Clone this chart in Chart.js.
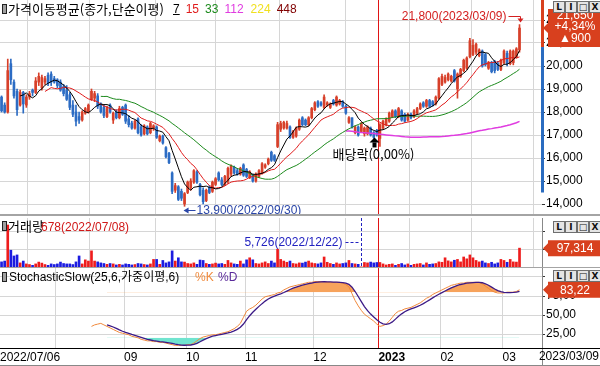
<!DOCTYPE html>
<html lang="ko">
<head>
<meta charset="utf-8">
<title>가격이동평균</title>
<script src="https://cdn.jsdelivr.net/npm/chart.js@4.4.1/dist/chart.umd.min.js"></script>
<style>
  html,body{margin:0;padding:0;background:#fff;}
  #wrap{position:relative;width:600px;height:366px;overflow:hidden;background:#fff;}
  #wrap canvas{position:absolute;left:0;}
  .lbl{position:absolute;white-space:nowrap;font-family:"Noto Sans CJK KR","Liberation Sans",sans-serif;font-size:13px;line-height:14px;color:#000;}
  .num{position:absolute;white-space:nowrap;font-family:"Liberation Sans","Noto Sans CJK KR",sans-serif;font-size:12px;line-height:14px;}
  .btns{position:absolute;left:553px;width:47px;height:12px;}
  .btns span{position:absolute;top:0;width:10px;height:10px;border:1px solid #6f6f6f;background:#e4e4e4;color:#111;font:bold 9px/10px "DejaVu Sans",sans-serif;text-align:center;}
  .icon{position:absolute;width:3px;height:8px;background:#a0a0a0;border:1px solid #222;}
  .sep{position:absolute;left:0;width:600px;}
</style>
</head>
<body>
<div id="wrap">
  <canvas id="cPrice" width="600" height="216" style="top:0px"></canvas>
  <canvas id="cVol" width="600" height="52" style="top:216px"></canvas>
  <canvas id="cSto" width="600" height="98" style="top:268px"></canvas>
  <div class="sep" style="top:214px;height:2px;background:#a4a4a4"></div>
  <div class="sep" style="top:267px;height:1px;background:#a4a4a4"></div>
  <div class="sep" style="top:348px;height:1px;background:#000"></div>
  <div class="sep" style="top:365px;height:1px;background:#888"></div>
  <div style="position:absolute;left:542px;top:349px;width:1px;height:16px;background:#888"></div>

  <div class="icon" style="left:2px;top:4px"></div>
  <div class="lbl" style="left:8px;top:2px">가격이동평균(종가,단순이평)</div>
  <div id="maLegend"></div>

  <div class="icon" style="left:2px;top:221px"></div>
  <div class="lbl" style="left:8px;top:219px">거래량</div>
  <div class="num" id="volMaxLbl" style="left:41px;top:220px;color:#d01818"></div>

  <div class="icon" style="left:2px;top:272px"></div>
  <div class="num" style="left:9px;top:270px;color:#000">StochasticSlow(25,6,가중이평,6)</div>
  <div class="num" style="left:195px;top:270px;color:#f08a3c">%K</div>
  <div class="num" style="left:218px;top:270px;color:#5a2a9a">%D</div>

  <div class="num" id="lastDate" style="right:1px;top:349px;color:#000"></div>

  <div class="btns" style="top:1px"><span style="left:0">L</span><span style="left:12px">I</span><span style="left:24px">□</span><span style="left:36px">X</span></div>
  <div class="btns" style="top:221px"><span style="left:0">L</span><span style="left:12px">I</span><span style="left:24px">□</span><span style="left:36px">X</span></div>
  <div class="btns" style="top:270px"><span style="left:0">L</span><span style="left:12px">I</span><span style="left:24px">□</span><span style="left:36px">X</span></div>
</div>
<script>
// ---------------- DATA ----------------
const dates = [
 '2022/07/06','2022/07/07','2022/07/08','2022/07/11','2022/07/12','2022/07/13','2022/07/14','2022/07/15','2022/07/18','2022/07/19','2022/07/20','2022/07/21','2022/07/22','2022/07/25','2022/07/26','2022/07/27','2022/07/28','2022/07/29',
 '2022/08/01','2022/08/02','2022/08/03','2022/08/04','2022/08/05','2022/08/08','2022/08/09','2022/08/10','2022/08/11','2022/08/12','2022/08/16','2022/08/17','2022/08/18','2022/08/19','2022/08/22','2022/08/23','2022/08/24','2022/08/25','2022/08/26','2022/08/29','2022/08/30','2022/08/31',
 '2022/09/01','2022/09/02','2022/09/05','2022/09/06','2022/09/07','2022/09/08','2022/09/13','2022/09/14','2022/09/15','2022/09/16','2022/09/19','2022/09/20','2022/09/21','2022/09/22','2022/09/23','2022/09/26','2022/09/27','2022/09/28','2022/09/29','2022/09/30',
 '2022/10/04','2022/10/05','2022/10/06','2022/10/07','2022/10/11','2022/10/12','2022/10/13','2022/10/14','2022/10/17','2022/10/18','2022/10/19','2022/10/20','2022/10/21','2022/10/24','2022/10/25','2022/10/26','2022/10/27','2022/10/28','2022/10/31',
 '2022/11/01','2022/11/02','2022/11/03','2022/11/04','2022/11/07','2022/11/08','2022/11/09','2022/11/10','2022/11/11','2022/11/14','2022/11/15','2022/11/16','2022/11/17','2022/11/18','2022/11/21','2022/11/22','2022/11/23','2022/11/24','2022/11/25','2022/11/28','2022/11/29','2022/11/30',
 '2022/12/01','2022/12/02','2022/12/05','2022/12/06','2022/12/07','2022/12/08','2022/12/09','2022/12/12','2022/12/13','2022/12/14','2022/12/15','2022/12/16','2022/12/19','2022/12/20','2022/12/21','2022/12/22','2022/12/23','2022/12/26','2022/12/27','2022/12/28','2022/12/29',
 '2023/01/02','2023/01/03','2023/01/04','2023/01/05','2023/01/06','2023/01/09','2023/01/10','2023/01/11','2023/01/12','2023/01/13','2023/01/16','2023/01/17','2023/01/18','2023/01/19','2023/01/20','2023/01/25','2023/01/26','2023/01/27','2023/01/30','2023/01/31',
 '2023/02/01','2023/02/02','2023/02/03','2023/02/06','2023/02/07','2023/02/08','2023/02/09','2023/02/10','2023/02/13','2023/02/14','2023/02/15','2023/02/16','2023/02/17','2023/02/20','2023/02/21','2023/02/22','2023/02/23','2023/02/24','2023/02/27','2023/02/28',
 '2023/03/02','2023/03/03','2023/03/06','2023/03/07','2023/03/08','2023/03/09'
];
const openPrices = [
 18650,18300,18000,20100,19300,18900,18300,18850,18300,18650,
 18950,18850,19300,19050,19300,19600,19650,19450,19400,19300,
 19100,18950,18750,18300,18000,17800,17650,17950,18000,18550,
 18600,18700,18350,18200,17800,18300,17650,18000,17750,18200,
 18300,17700,17520,17300,17700,17350,17050,17350,17100,17300,
 17350,16750,16950,16450,16200,15350,14600,14750,14550,14000,
 14500,14700,14950,15400,14850,14600,14150,14700,14550,14850,
 15350,15050,14850,15000,15300,15600,15450,15300,15700,15500,
 15150,15250,15000,15200,15350,15600,15750,16250,16100,16500,
 17250,17300,17300,17350,16900,16950,17250,17750,17650,17450,
 17750,18100,18450,18400,18200,18300,18200,18500,18300,18350,
 18450,18250,17550,17750,17100,17350,17150,17050,17050,17300,
 17100,17200,16850,17300,17450,17600,17800,18050,17800,18050,
 17900,17650,17900,17800,17950,18150,18400,18250,18500,18450,
 18350,18600,19200,19300,19400,19350,19800,19000,19550,19800,
 19900,20400,20500,20600,20450,20650,20500,19900,20150,20200,
 20100,19850,20150,20550,20100,20150,20400,20700
];
const highPrices = [
 18700,18400,20300,20300,19400,19000,18950,18900,18750,18900,
 19000,19500,19700,19600,19550,19700,19750,19550,19450,19400,
 19200,19150,18850,18500,18300,18000,18050,18200,18350,19000,
 18900,18800,18400,18300,18250,18350,18000,18100,18250,18250,
 18350,17850,17600,17650,17750,17450,17450,17400,17550,17450,
 17400,17000,17000,16500,16250,15400,14900,14800,14650,14500,
 15000,15100,15500,15450,14900,14700,14650,14800,15000,15150,
 15400,15150,15250,15600,15700,15650,15550,15600,15750,15550,
 15450,15300,15350,15500,15800,15750,16000,16300,16150,17550,
 17600,17600,17600,17400,17200,17350,17700,17800,17700,17800,
 18200,18450,18500,18450,18750,18450,18400,18550,18700,18550,
 18500,18300,17800,17750,17400,17400,17550,17350,17400,17350,
 17150,17250,17500,17650,17750,18000,18100,18100,18200,18100,
 17950,17950,17950,18100,18200,18400,18450,18550,18550,18500,
 18700,19500,19650,19600,19700,19600,19850,19700,19900,20300,
 20400,21200,21150,21000,20750,20700,20550,20200,20200,20250,
 20200,20300,20700,20650,20700,20700,20800,21800
];
const lowPrices = [
 18000,17950,17950,19200,18600,17850,18250,17950,18200,18550,
 18700,18800,19150,18950,19200,19150,19150,19250,19050,18900,
 18700,18500,18100,17800,17400,17500,17600,17900,17950,18500,
 18450,18150,17950,17750,17750,17950,17500,17700,17700,17850,
 17500,17350,17250,17250,17050,16950,17000,17000,17050,17200,
 16850,16700,16600,16000,15750,14450,14500,14150,14150,13900,
 14450,14600,14900,14900,14350,14000,14100,14450,14500,14800,
 15000,14800,14800,14900,15200,15300,15250,15250,15200,15150,
 15100,14950,14950,15150,15300,15550,15700,15850,15850,16450,
 17150,17250,17250,16850,16850,16900,17200,17400,17400,17400,
 17700,18050,18200,18250,18150,18250,18150,18300,18250,18300,
 18200,17900,17500,17300,17050,16950,17100,16950,17000,16950,
 16850,16950,16500,17250,17400,17550,17750,17750,17750,17600,
 17550,17600,17700,17750,17900,18100,18200,18200,18200,18250,
 18300,18550,19150,19250,19350,19300,19300,18600,19500,19750,
 19850,20350,20450,20500,20400,19950,20000,19850,19700,19700,
 19800,19800,20100,20000,20050,20050,20350,20600
];
const closePrices = [
 18050,18000,19800,19400,18700,18100,18850,18350,18650,18800,
 18850,19350,19550,19500,19450,19250,19300,19300,19150,18950,
 18800,18550,18200,17900,17600,17650,18000,18150,18300,18900,
 18800,18250,18000,17850,18150,18000,17950,17750,18150,17900,
 17600,17450,17300,17600,17100,17000,17400,17050,17500,17400,
 16900,16950,16650,16050,15800,14550,14800,14200,14250,14450,
 14950,15000,15450,14950,14400,14100,14600,14500,14950,15100,
 15050,14850,15200,15550,15650,15350,15300,15550,15250,15200,
 15400,15000,15300,15450,15750,15700,15950,15900,15900,17450,
 17500,17550,17500,16900,17150,17300,17650,17450,17450,17750,
 18150,18400,18250,18300,18650,18400,18350,18350,18650,18500,
 18250,17950,17750,17350,17350,17000,17500,17300,17350,17000,
 16900,17000,17450,17600,17700,17950,18050,17800,18150,17650,
 17600,17900,17750,18050,18150,18350,18250,18500,18250,18300,
 18650,19450,19550,19500,19650,19550,19350,19650,19850,20250,
 20350,21100,20900,20950,20700,20000,20050,20150,19750,19800,
 19850,20250,20650,20100,20650,20650,20750,21650
];
const volumes = [
 30000,34000,210678,87000,59000,64000,25000,34000,20000,17000,
 13000,20000,29000,24000,17000,13000,20000,17000,20000,29000,
 22000,20000,20000,17000,30000,59000,20000,40000,34000,84000,
 34000,30000,25000,22000,18000,22000,20000,15000,18000,15000,
 20000,18000,15000,17000,22000,20000,17000,15000,20000,42000,
 42000,18000,37000,25000,30000,84000,34000,50000,30000,29000,
 22000,20000,25000,18000,39000,37000,22000,18000,20000,24000,
 20000,22000,18000,37000,25000,20000,18000,34000,20000,40000,
 50000,40000,22000,20000,25000,30000,22000,34000,25000,92000,
 42000,34000,28000,34000,22000,20000,25000,24000,29000,34000,
 25000,22000,20000,25000,54000,28000,22000,18000,25000,20000,
 22000,25000,37000,22000,20000,18000,5726,27000,25000,29000,
 25000,27000,27000,20000,15000,18000,20000,13000,18000,22000,
 15000,20000,13000,18000,20000,22000,15000,25000,18000,20000,
 22000,30000,28000,50000,35000,30000,38000,42000,30000,54000,
 45000,64000,50000,37000,30000,34000,25000,22000,28000,20000,
 25000,42000,37000,28000,42000,30000,29000,97314
];
// Stochastic Slow %K (first value on the 30th trading day)
const stochKValues = [
 35,37,38,39,37,35,33,
 31,29,27,26,25,24,22,21,20,18,
 17,16,16,15,15,14,14,13,12,11,10,10,
 10,10,11,11,13,16,19,
 21,22,23,24,24,25,26,27,28,30,32,35,39,
 47,55,58,60,63,67,71,74,75,76,77,79,
 80,83,85,87,88,89,90,91,92,93,93,94,
 94,94,94,93,93,93,93,93,92,90,87,78,
 69,62,56,51,48,45,42,38,
 35,36,38,42,47,52,55,56,58,59,60,62,
 64,66,69,72,74,77,79,81,83,85,87,89,
 90,91,92,92,93,93,93,93,93,91,88,85,
 82,80,79,79,79,80,80,80,81,83.22
];
const maPeriods = [7, 15, 33, 112, 224, 448];
const maColors  = ['#000000', '#e01c1c', '#1c8a1c', '#e03ce0', '#f0e020', '#800000'];
const priceTicks = [14000, 15000, 16000, 17000, 18000, 19000, 20000, 21000, 22000];
const volumeTicks = [90000, 180000];
const stochTicks = [25, 50, 75, 100];
const stochLevels = [20, 80];
const events = [{ date: '2022/12/28', text: '배당락(0,00%)' }];

// ---------------- HELPERS ----------------
const FONT = '"Liberation Sans","Noto Sans CJK KR",sans-serif';
const GRID = '#d6d6d6';
const UP = '#d7402a', DOWN = '#2c6cc4';
const VUP = '#ee1c1c', VDOWN = '#1c1ce0';
const TAG = '#d8401e';
const N = dates.length;
const X_MIN = -0.5, X_MAX = 174.25;
const fmtInt = v => Math.round(v).toLocaleString('en-US');
const stochK = new Array(N - stochKValues.length).fill(null).concat(stochKValues);

function sma(arr, n) {
  return arr.map((v, i) => {
    if (i < n - 1) return null;
    let s = 0; for (let k = i - n + 1; k <= i; k++) s += arr[k];
    return s / n;
  });
}
function wma(arr, n) {
  return arr.map((v, i) => {
    if (i < n - 1) return null;
    let s = 0, w = 0;
    for (let k = 0; k < n; k++) { const a = arr[i - n + 1 + k]; if (a == null) return null; s += a * (k + 1); w += k + 1; }
    return s / w;
  });
}
const stochD = wma(stochK, 6);
const up = closePrices.map((c, i) => c >= openPrices[i]);

// x ticks at month boundaries
const xTickValues = [X_MIN];
const xTickLabels = { [X_MIN]: dates[0] };
const hiddenMonthLabels = ['08'];
for (let i = 1; i < N; i++) {
  const m = dates[i].slice(5, 7);
  if (m !== dates[i - 1].slice(5, 7)) {
    const v = i - 0.5;
    xTickValues.push(v);
    xTickLabels[v] = m === '01' ? dates[i].slice(0, 4) : (hiddenMonthLabels.includes(m) ? '' : m);
  }
}
const yearBoundary = dates.findIndex(d => d.startsWith('2023')) - 0.5;

function xScaleOpts(showLabels) {
  return {
    type: 'linear', min: X_MIN, max: X_MAX, offset: false,
    afterBuildTicks: s => { s.ticks = xTickValues.map(v => ({ value: v })); },
    afterFit: s => { s.height = showLabels ? 18 : 0; s.paddingLeft = 0; s.paddingRight = 0; },
    grid: { color: c => (c.tick && c.tick.value === X_MIN) ? 'rgba(0,0,0,0)' : GRID, lineWidth: 1, drawTicks: false },
    border: { display: false },
    ticks: {
      display: showLabels, autoSkip: false, maxRotation: 0, minRotation: 0, align: 'start', padding: 2, color: '#000',
      font: c => ({ family: FONT, size: 12, weight: (c.tick && xTickLabels[c.tick.value] === '2023') ? 'bold' : 'normal' }),
      callback: v => xTickLabels[v] || ''
    }
  };
}
function yScaleOpts(min, max, ticks, cb, showLabels) {
  return {
    position: 'right', min, max,
    afterBuildTicks: s => { s.ticks = ticks.map(v => ({ value: v })); },
    afterFit: s => { s.width = 58; s.paddingTop = 0; s.paddingBottom = 0; },
    grid: { color: GRID, drawTicks: true, tickLength: 3, tickColor: '#333' },
    border: { display: true, color: '#888', width: 1 },
    ticks: { display: showLabels, color: '#000', font: { family: FONT, size: 12 }, padding: 1, callback: cb }
  };
}
const baseOpts = {
  responsive: false, maintainAspectRatio: false, animation: false, devicePixelRatio: 1, events: [],
  plugins: { legend: { display: false }, tooltip: { enabled: false } }
};
function drawYearLine(chart) {
  const { ctx, chartArea } = chart;
  const x = Math.round(chart.scales.x.getPixelForValue(yearBoundary)) + 0.5;
  ctx.save(); ctx.strokeStyle = '#e01414'; ctx.lineWidth = 1;
  ctx.beginPath(); ctx.moveTo(x, chartArea.top); ctx.lineTo(x, chartArea.bottom); ctx.stroke(); ctx.restore();
}
function drawTag(ctx, left, yc, top, bottom, lines, lineYs) {
  ctx.save();
  ctx.fillStyle = TAG;
  const bx = left + 5;
  ctx.beginPath();
  ctx.moveTo(bx, top); ctx.lineTo(600, top); ctx.lineTo(600, bottom); ctx.lineTo(bx, bottom);
  ctx.lineTo(bx, Math.min(bottom, yc + 5)); ctx.lineTo(left, yc); ctx.lineTo(bx, Math.max(top, yc - 5));
  ctx.closePath(); ctx.fill();
  ctx.fillStyle = '#fff'; ctx.font = '12px ' + FONT; ctx.textAlign = 'center'; ctx.textBaseline = 'middle';
  lines.forEach((t, k) => ctx.fillText(t, (bx + 600) / 2 + 1, lineYs[k]));
  ctx.restore();
}

// legend
(function () {
  const lg = document.getElementById('maLegend');
  let x = 173;
  maPeriods.forEach((p, k) => {
    const s = document.createElement('div');
    s.className = 'num';
    s.style.left = x + 'px'; s.style.top = '2px'; s.style.color = maColors[k];
    if (k === 0) s.style.textDecoration = 'underline';
    s.textContent = String(p);
    lg.appendChild(s);
    x += String(p).length * 6.7 + 6;
  });
  const vi = volumes.indexOf(Math.max(...volumes));
  document.getElementById('volMaxLbl').textContent = fmtInt(volumes[vi]).slice(-3) + '(' + dates[vi] + ')';
  document.getElementById('lastDate').textContent = dates[N - 1];
})();

// ---------------- PRICE CHART ----------------
const P_MAX = 20000 + 66 / 0.023, P_MIN = P_MAX - 214 / 0.023;
const maDatasets = maPeriods.slice(0, 4).map((p, k) => ({
  type: 'line', label: 'MA' + p,
  data: sma(closePrices, p).map((v, i) => ({ x: i, y: v })).filter(d => d.y != null),
  borderColor: maColors[k], borderWidth: k === 3 ? 1.5 : 1, pointRadius: 0, fill: false, tension: 0, order: 1
}));
const pricePlugin = {
  id: 'priceDecor',
  beforeDatasetsDraw(chart) { drawYearLine(chart); },
  afterDraw(chart) {
    const { ctx, chartArea } = chart, xs = chart.scales.x, ys = chart.scales.y;
    ctx.save();
    // highest high
    const hi = highPrices.indexOf(Math.max(...highPrices));
    let px = Math.round(xs.getPixelForValue(hi)) + 0.5, py = ys.getPixelForValue(highPrices[hi]);
    ctx.font = '12px ' + FONT; ctx.textBaseline = 'middle';
    ctx.fillStyle = '#d42020'; ctx.strokeStyle = '#d42020'; ctx.lineWidth = 1;
    ctx.textAlign = 'right';
    const ty = 16.5;
    ctx.fillText(fmtInt(highPrices[hi]) + '(' + dates[hi] + ')', px - 14, ty);
    ctx.beginPath(); ctx.moveTo(px - 12, ty); ctx.lineTo(px, ty); ctx.lineTo(px, py - 5); ctx.stroke();
    ctx.beginPath(); ctx.moveTo(px - 3, py - 6); ctx.lineTo(px + 3, py - 6); ctx.lineTo(px, py - 2); ctx.closePath(); ctx.fill();
    // lowest low
    const lo = lowPrices.indexOf(Math.min(...lowPrices));
    px = xs.getPixelForValue(lo); py = ys.getPixelForValue(lowPrices[lo]);
    const ly = Math.round(py) + 4.5;
    ctx.fillStyle = '#2a46a8'; ctx.strokeStyle = '#2a46a8';
    ctx.textAlign = 'left';
    ctx.fillText(fmtInt(lowPrices[lo]) + '(' + dates[lo] + ')', px + 12, ly + 0.5);
    ctx.beginPath(); ctx.moveTo(px + 1, ly); ctx.lineTo(px + 11, ly); ctx.stroke();
    ctx.beginPath(); ctx.moveTo(px - 1, ly); ctx.lineTo(px + 4, ly - 3); ctx.lineTo(px + 4, ly + 3); ctx.closePath(); ctx.fill();
    // events (ex-dividend)
    events.forEach(ev => {
      const i = dates.indexOf(ev.date); if (i < 0) return;
      const ex = Math.round(xs.getPixelForValue(i)) + 0.5;
      const base = ys.getPixelForValue(lowPrices[i]) - 1;
      ctx.fillStyle = '#000';
      ctx.beginPath(); ctx.moveTo(ex, base); ctx.lineTo(ex + 5, base + 5); ctx.lineTo(ex - 5, base + 5); ctx.closePath(); ctx.fill();
      ctx.fillRect(ex - 2, base + 5, 4, 5);
      ctx.font = '13px "Noto Sans CJK KR","Liberation Sans",sans-serif';
      ctx.textAlign = 'center';
      ctx.fillText(ev.text, ex - 1, base + 17);
    });
    // right axis colour bar and current price tag
    const last = N - 1;
    const yc = ys.getPixelForValue(closePrices[last]);
    const tagTop = yc - 19, tagBottom = yc + 19;
    const ax = chartArea.right;
    ctx.fillStyle = '#d8401e'; ctx.fillRect(ax - 1, 0, 3, tagBottom);
    ctx.fillStyle = '#2a6cc0'; ctx.fillRect(ax - 1, tagBottom, 3, ys.getPixelForValue(14500) - tagBottom);
    const chg = closePrices[last] - closePrices[last - 1];
    const pct = (chg / closePrices[last - 1] * 100).toFixed(2).replace('.', ',');
    drawTag(ctx, ax + 1, yc, tagTop, tagBottom,
      [fmtInt(closePrices[last]), (chg >= 0 ? '+' : '') + pct + '%', (chg >= 0 ? '▲' : '▼') + fmtInt(Math.abs(chg))],
      [yc - 12, yc - 1, yc + 11]);
    ctx.restore();
  }
};
new Chart(document.getElementById('cPrice'), {
  type: 'bar',
  data: {
    datasets: [
      { type: 'bar', label: 'wick', data: lowPrices.map((l, i) => ({ x: i, y: [l, highPrices[i]] })),
        backgroundColor: up.map(u => u ? UP : DOWN), barThickness: 1, grouped: false, order: 6 },
      { type: 'bar', label: 'body', data: openPrices.map((o, i) => ({ x: i, y: [o, closePrices[i]] })),
        backgroundColor: up.map(u => u ? UP : DOWN), barThickness: 2, grouped: false, minBarLength: 1, order: 5 },
      ...maDatasets
    ]
  },
  options: Object.assign({}, baseOpts, {
    layout: { padding: { top: 0, bottom: 2, left: 0, right: 0 } },
    scales: {
      x: xScaleOpts(false),
      y: Object.assign(yScaleOpts(P_MIN, P_MAX, priceTicks, v => fmtInt(v), true), { border: { display: false } })
    }
  }),
  plugins: [pricePlugin]
});

// ---------------- VOLUME CHART ----------------
const volPlugin = {
  id: 'volDecor',
  beforeDatasetsDraw(chart) { drawYearLine(chart); },
  afterDraw(chart) {
    const { ctx, chartArea } = chart, xs = chart.scales.x, ys = chart.scales.y;
    ctx.save();
    const mi = volumes.indexOf(Math.min(...volumes));
    const px = Math.round(xs.getPixelForValue(mi)) + 0.5;
    ctx.strokeStyle = '#2222c0'; ctx.fillStyle = '#2222c0'; ctx.lineWidth = 1;
    ctx.setLineDash([3, 2]);
    ctx.beginPath(); ctx.moveTo(px, chartArea.top); ctx.lineTo(px, chartArea.bottom); ctx.stroke();
    ctx.font = '12px ' + FONT; ctx.textAlign = 'right'; ctx.textBaseline = 'middle';
    const ty = 26.5;
    ctx.fillText(fmtInt(volumes[mi]) + '(' + dates[mi] + ')', px - 19, ty);
    ctx.beginPath(); ctx.moveTo(px - 16, ty); ctx.lineTo(px - 1, ty); ctx.stroke();
    ctx.setLineDash([]);
    const yc = ys.getPixelForValue(volumes[N - 1]);
    drawTag(ctx, chartArea.right + 1, yc, yc - 8, yc + 8, [fmtInt(volumes[N - 1])], [yc + 0.5]);
    ctx.restore();
  }
};
new Chart(document.getElementById('cVol'), {
  type: 'bar',
  data: { datasets: [{ label: 'volume', data: volumes.map((v, i) => ({ x: i, y: v })),
    backgroundColor: up.map(u => u ? VUP : VDOWN), barThickness: 2, grouped: false }] },
  options: Object.assign({}, baseOpts, {
    layout: { padding: { top: 2, bottom: 0, left: 0, right: 0 } },
    scales: { x: xScaleOpts(false), y: yScaleOpts(0, 245000, volumeTicks, v => fmtInt(v), false) }
  }),
  plugins: [volPlugin]
});

// ---------------- STOCHASTIC CHART ----------------
const S_MIN = (353 - 348) / 0.76, S_MAX = (353 - 268) / 0.76;
const kPts = stochK.map((v, i) => ({ x: i, y: v })).filter(d => d.y != null);
const dPts = stochD.map((v, i) => ({ x: i, y: v })).filter(d => d.y != null);
const stoPlugin = {
  id: 'stoDecor',
  beforeDatasetsDraw(chart) { drawYearLine(chart); },
  afterDraw(chart) {
    const { ctx, chartArea } = chart, ys = chart.scales.y;
    const v = stochK[N - 1];
    const yc = ys.getPixelForValue(v);
    drawTag(ctx, chartArea.right + 1, yc, yc - 8, yc + 8, [v.toFixed(2).replace('.', ',')], [yc + 0.5]);
  }
};
new Chart(document.getElementById('cSto'), {
  type: 'line',
  data: {
    datasets: [
      { label: 'hiFill', data: dPts, borderWidth: 0, borderColor: 'rgba(0,0,0,0)', pointRadius: 0,
        fill: { target: { value: stochLevels[1] }, above: '#f7a35c', below: 'rgba(0,0,0,0)' }, order: 4 },
      { label: 'loFill', data: dPts, borderWidth: 0, borderColor: 'rgba(0,0,0,0)', pointRadius: 0,
        fill: { target: { value: stochLevels[0] }, above: 'rgba(0,0,0,0)', below: '#70e4cf' }, order: 3 },
      { label: '%K', data: kPts, borderColor: '#f0883a', borderWidth: 1, pointRadius: 0, fill: false, tension: 0, order: 2 },
      { label: '%D', data: dPts, borderColor: '#3c1a86', borderWidth: 1.3, pointRadius: 0, fill: false, tension: 0, order: 1 }
    ]
  },
  options: Object.assign({}, baseOpts, {
    layout: { padding: { top: 0, bottom: 0, left: 0, right: 0 } },
    scales: {
      x: xScaleOpts(true),
      y: yScaleOpts(S_MIN, S_MAX, stochTicks, v => v >= 100 ? '' : v.toFixed(2).replace('.', ','), true)
    }
  }),
  plugins: [stoPlugin]
});
</script>
</body>
</html>
